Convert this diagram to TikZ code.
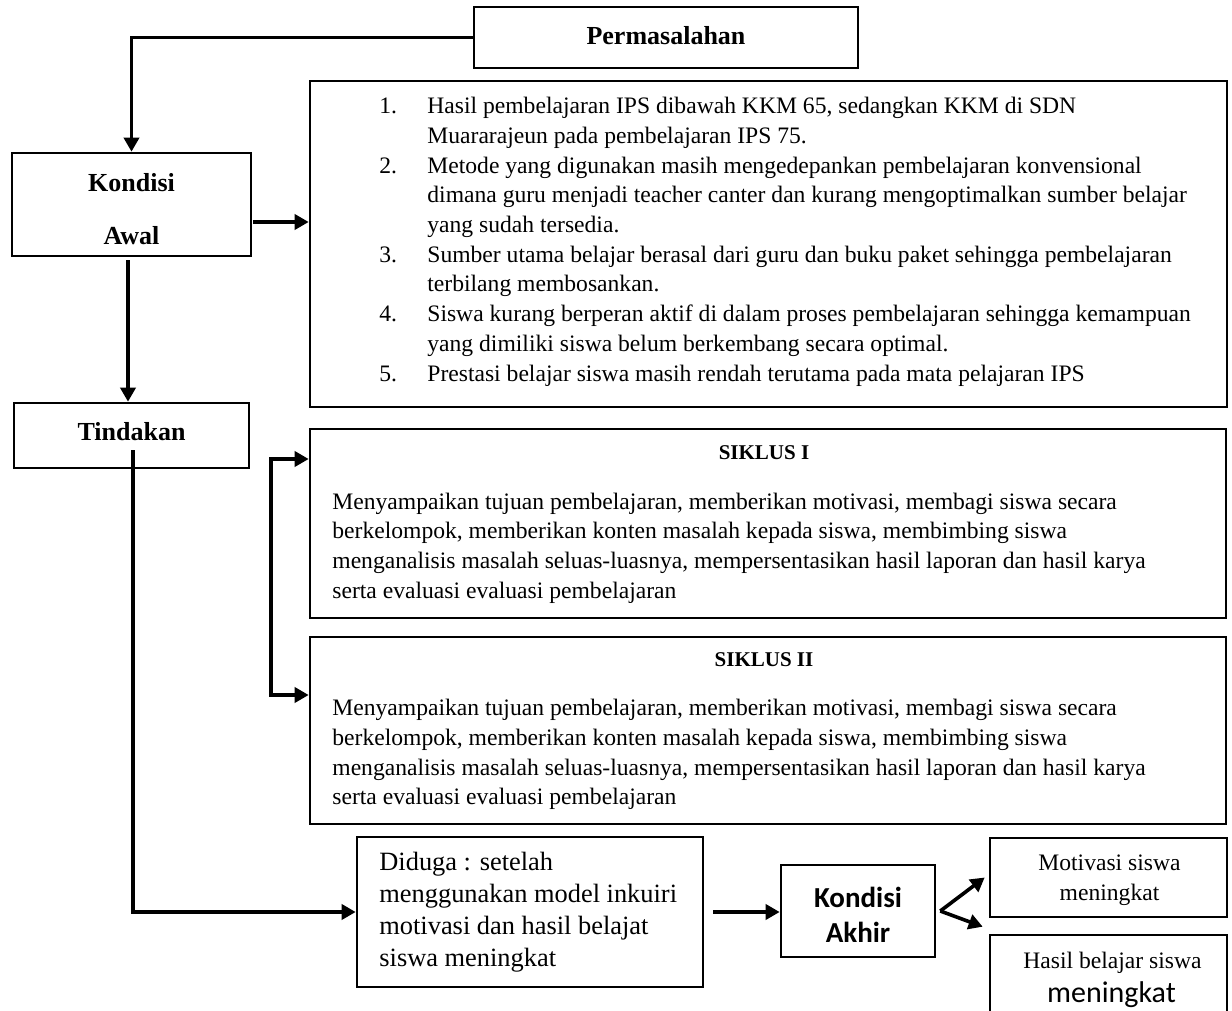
\documentclass[tikz,border=0pt]{standalone}
\usepackage{fontspec}
\setmainfont{Liberation Serif}
\newfontfamily\carlito{Carlito}
\usetikzlibrary{arrows.meta}
\begin{document}
\begin{tikzpicture}[x=0.5pt,y=-0.5pt,
  box/.style={draw, line width=1.3pt, inner sep=0pt},
  conn/.style={line width=1.8pt, -{Triangle[length=7pt,width=7.5pt]}},
  conn2/.style={line width=1.8pt, {Triangle[length=7pt,width=7.5pt]}-{Triangle[length=7pt,width=7.5pt]}},
  txt/.style={inner sep=0pt, align=left},
  lbl/.style={inner sep=0pt, align=center},
  body/.style={font=\fontsize{11.8}{14.85}\selectfont},
]
\useasboundingbox (0,0) rectangle (1232,1011);

% boxes
\node[box, minimum width=192pt, minimum height=30.5pt] (perm) at (666,37.5) {};
\node[lbl, font=\fontsize{13}{15}\selectfont\bfseries] (permt) at (666,36) {Permasalahan};

\node[box, minimum width=119.5pt, minimum height=51.5pt] (kond) at (131.5,204.5) {};
\node[lbl, font=\fontsize{13}{26.5}\selectfont\bfseries] (kondt) at (131.5,209.5) {Kondisi\\Awal};

\node[box, minimum width=458.5pt, minimum height=163pt] (list) at (768.5,244) {};
\node[txt, body, anchor=west] (listt) at (379,241.7) {%
\makebox[24pt][l]{1.}Hasil pembelajaran IPS dibawah KKM 65, sedangkan KKM di SDN\\
\hspace*{24pt}Muararajeun pada pembelajaran IPS 75.\\
\makebox[24pt][l]{2.}Metode yang digunakan masih mengedepankan pembelajaran konvensional\\
\hspace*{24pt}dimana guru menjadi teacher canter dan kurang mengoptimalkan sumber belajar\\
\hspace*{24pt}yang sudah tersedia.\\
\makebox[24pt][l]{3.}Sumber utama belajar berasal dari guru dan buku paket sehingga pembelajaran\\
\hspace*{24pt}terbilang membosankan.\\
\makebox[24pt][l]{4.}Siswa kurang berperan aktif di dalam proses pembelajaran sehingga kemampuan\\
\hspace*{24pt}yang dimiliki siswa belum berkembang secara optimal.\\
\makebox[24pt][l]{5.}Prestasi belajar siswa masih rendah terutama pada mata pelajaran IPS};

\node[box, minimum width=117.5pt, minimum height=32.5pt] (tind) at (131.5,435.5) {};
\node[lbl, font=\fontsize{13}{15}\selectfont\bfseries] (tindt) at (131.5,432) {Tindakan};

\node[box, minimum width=458pt, minimum height=94.5pt] (s1) at (768,523.5) {};
\node[lbl, font=\fontsize{10.5}{12}\selectfont\bfseries] (s1t) at (764,453) {SIKLUS I};
\node[txt, body, anchor=west] (s1b) at (332,548) {%
Menyampaikan tujuan pembelajaran, memberikan motivasi, membagi siswa secara\\
berkelompok, memberikan konten masalah kepada siswa, membimbing siswa\\
menganalisis masalah seluas-luasnya, mempersentasikan hasil laporan dan hasil karya\\
serta evaluasi evaluasi pembelajaran};

\node[box, minimum width=458pt, minimum height=93.5pt] (s2) at (768,730.5) {};
\node[lbl, font=\fontsize{10.5}{12}\selectfont\bfseries] (s2t) at (764,660) {SIKLUS II};
\node[txt, body, anchor=west] (s2b) at (332,754.5) {%
Menyampaikan tujuan pembelajaran, memberikan motivasi, membagi siswa secara\\
berkelompok, memberikan konten masalah kepada siswa, membimbing siswa\\
menganalisis masalah seluas-luasnya, mempersentasikan hasil laporan dan hasil karya\\
serta evaluasi evaluasi pembelajaran};

\node[box, minimum width=173pt, minimum height=75pt] (dug) at (530,912) {};
\node[txt, anchor=west, font=\fontsize{13.2}{16}\selectfont] (dugt) at (379,912) {%
Diduga : setelah\\
menggunakan model inkuiri\\
motivasi dan hasil belajat\\
siswa meningkat};

\node[box, minimum width=77pt, minimum height=46pt] (akh) at (858,911) {};
\node[lbl, font=\carlito\fontsize{14.5}{17.5}\selectfont\bfseries] (akht) at (858,914.5) {Kondisi\\Akhir};

\node[box, minimum width=118.5pt, minimum height=39.5pt] (mot) at (1108.5,877.5) {};
\node[lbl, font=\fontsize{11.8}{15}\selectfont] (mott) at (1109.5,880) {Motivasi siswa\\meningkat};

\node[box, minimum width=118.5pt, minimum height=47.5pt] (has) at (1108.5,982.5) {};
\node[lbl, font=\fontsize{11.8}{15}\selectfont] (hast1) at (1112.5,963) {Hasil belajar siswa};
\node[lbl, font=\carlito\fontsize{15}{17}\selectfont] (hast2) at (1111.5,995) {meningkat};

% connectors
\draw[conn] (perm.west) -| (kond.north);
\coordinate (ka) at (253,222);
\draw[conn] (ka) -- (list.west |- ka);
\coordinate (kt) at (128,260);
\draw[conn] (kt) -- (kt |- tind.north);
\coordinate (td) at (133,450);
\draw[conn] (td) |- (dug.west);
\coordinate (bt) at (271,459);
\coordinate (bb) at (271,695);
\draw[conn2] (s1.west |- bt) -- (bt) -- (bb) -- (s2.west |- bb);
\coordinate (da) at (713,912);
\draw[conn] (da) -- (akh.west |- da);
\draw[conn] ([xshift=2pt]akh.east) -- ([xshift=-2pt]mot.west);
\draw[conn] ([xshift=2pt]akh.east) -- ([xshift=-3pt,yshift=3.5pt]has.north west);
\end{tikzpicture}
\end{document}
